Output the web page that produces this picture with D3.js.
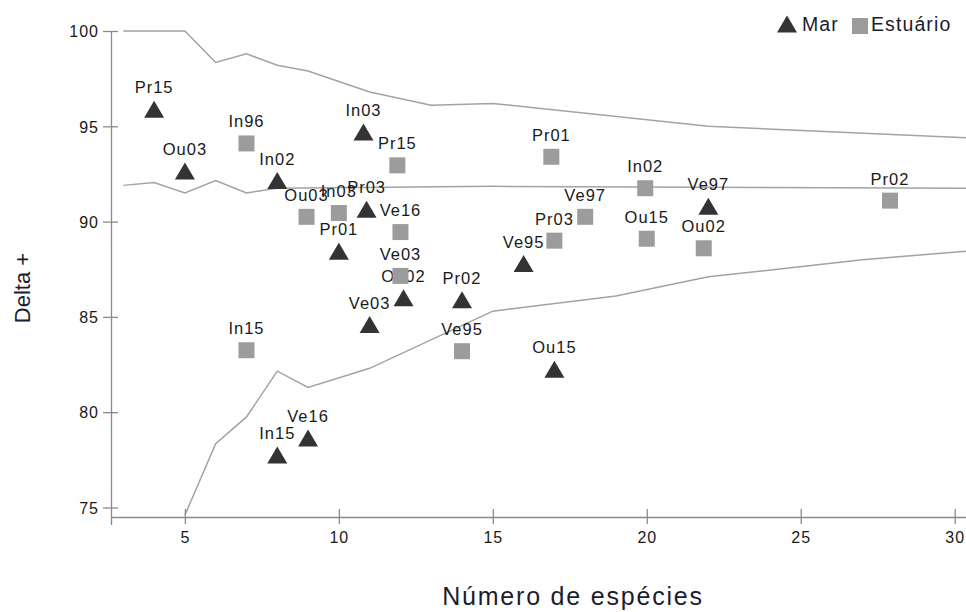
<!DOCTYPE html>
<html>
<head>
<meta charset="utf-8">
<script src="https://cdn.jsdelivr.net/npm/d3@7"></script>
<style>
  html, body { margin: 0; padding: 0; background: #fff; }
  svg { display: block; }
  text { font-family: "Liberation Sans", Arial, sans-serif; }
</style>
</head>
<body>
<svg id="chart" width="966" height="612"></svg>
<script>
// Sampling sites: Mar (sea) stations
const marNames   = ["Pr15", "Ou03", "In02", "In03", "Pr03", "Pr01", "Ou02", "Ve03", "Pr02", "Ve95", "Ou15", "Ve97", "In15", "Ve16"];
const marSpecies = [4, 5, 8, 10.8, 10.9, 10, 12.1, 11, 14, 16, 17, 22, 8, 9];
const marDelta   = [95.9, 92.65, 92.15, 94.7, 90.65, 88.45, 86.0, 84.6, 85.9, 87.8, 82.25, 90.8, 77.75, 78.65];

// Sampling sites: Estuário stations
const estNames   = ["In96", "Ou03", "In03", "Pr15", "Ve16", "Ve03", "In15", "Ve95", "Pr01", "Pr03", "Ve97", "In02", "Ou15", "Ou02", "Pr02"];
const estSpecies = [7, 8.95, 10, 11.9, 12, 12, 7, 14, 16.9, 17, 18, 19.95, 20, 21.85, 27.9];
const estDelta   = [94.1, 90.25, 90.45, 92.95, 89.45, 87.15, 83.25, 83.2, 93.4, 89.0, 90.25, 91.75, 89.1, 88.6, 91.1];

// Expected Delta+ funnel (upper limit, mean, lower limit)
const upperX = [3, 5, 6, 7, 8, 9, 11, 13, 15, 22, 30.4];
const upperY = [100, 100, 98.35, 98.8, 98.2, 97.9, 96.8, 96.1, 96.2, 95.0, 94.4];
const meanX  = [3, 4, 5, 6, 7, 8, 15, 30.4];
const meanY  = [91.9, 92.05, 91.5, 92.15, 91.5, 91.75, 91.85, 91.75];
const lowerX = [5, 6, 7, 8, 9, 11, 15, 19, 22, 27, 30.4];
const lowerY = [74.6, 78.35, 79.75, 82.15, 81.3, 82.3, 85.3, 86.1, 87.1, 88.0, 88.45];

// Axis ticks and titles
const xTicks = [5, 10, 15, 20, 25, 30];
const yTicks = [75, 80, 85, 90, 95, 100];
const xTitle = "Número de espécies";
const yTitle = "Delta +";
const legendLabels = ["Mar", "Estuário"];

const svg = d3.select("#chart");

const x = d3.scaleLinear().domain([2.6, 30.4]).range([111, 967]);
const y = d3.scaleLinear().domain([74.5, 100]).range([517, 31]);

const axisColor = "#8a8a8a";
const lineColor = "#a3a3a3";
const marColor = "#333333";
const estColor = "#9c9c9c";
const textColor = "#1a1a1a";

// Funnel lines
const line = d3.line().x(d => x(d[0])).y(d => y(d[1]));
[[upperX, upperY], [meanX, meanY], [lowerX, lowerY]].forEach(([xs, ys]) => {
  svg.append("path")
    .datum(xs.map((v, i) => [v, ys[i]]))
    .attr("d", line)
    .attr("fill", "none")
    .attr("stroke", lineColor)
    .attr("stroke-width", 1.5);
});

// X axis
const gx = svg.append("g")
  .attr("transform", `translate(0,${y.range()[0]})`)
  .call(d3.axisBottom(x).tickValues(xTicks).tickSize(7).tickSizeOuter(8));
gx.select(".domain").attr("stroke", axisColor).attr("stroke-width", 1.3);
gx.selectAll(".tick line").attr("y1", -8).attr("stroke", axisColor).attr("stroke-width", 1.3);
gx.selectAll(".tick text")
  .attr("y", 26).attr("dy", null)
  .attr("fill", textColor)
  .style("font-size", "16px")
  .style("letter-spacing", "1px");

// Y axis
const gy = svg.append("g")
  .attr("transform", `translate(${x.range()[0]},0)`)
  .call(d3.axisLeft(y).tickValues(yTicks).tickSize(8).tickSizeOuter(0));
gy.select(".domain").attr("stroke", axisColor).attr("stroke-width", 1.3);
gy.selectAll(".tick line").attr("x1", 7).attr("stroke", axisColor).attr("stroke-width", 1.3);
gy.selectAll(".tick text")
  .attr("x", -12).attr("dy", "0.36em")
  .attr("fill", textColor)
  .style("font-size", "16px")
  .style("letter-spacing", "1px");

// Marker shapes, centred on their bounding box
const triW = 20, triH = 17, sq = 16;
const triPath = `M0,${-triH / 2}L${triW / 2},${triH / 2}L${-triW / 2},${triH / 2}Z`;

const marData = marNames.map((n, i) => ({ name: n, s: marSpecies[i], d: marDelta[i] }));
const estData = estNames.map((n, i) => ({ name: n, s: estSpecies[i], d: estDelta[i] }));

function labels(data) {
  svg.append("g").selectAll("text")
    .data(data).join("text")
    .attr("x", d => x(d.s))
    .attr("y", d => y(d.d) - 16)
    .attr("text-anchor", "middle")
    .attr("fill", textColor)
    .style("font-size", "16.5px")
    .style("letter-spacing", "1px")
    .text(d => d.name);
}

// Mar: triangles
svg.append("g").selectAll("path")
  .data(marData).join("path")
  .attr("d", triPath)
  .attr("transform", d => `translate(${x(d.s)},${y(d.d)})`)
  .attr("fill", marColor);
labels(marData);

// Estuário: squares
svg.append("g").selectAll("rect")
  .data(estData).join("rect")
  .attr("x", d => x(d.s) - sq / 2)
  .attr("y", d => y(d.d) - sq / 2)
  .attr("width", sq).attr("height", sq)
  .attr("fill", estColor);
labels(estData);

// Legend
const lg = svg.append("g");
lg.append("path").attr("d", triPath).attr("transform", "translate(787,24)").attr("fill", marColor);
lg.append("text").attr("x", 802).attr("y", 31)
  .attr("fill", "#1c1c30").style("font-size", "19.5px").style("letter-spacing", "1.1px")
  .text(legendLabels[0]);
lg.append("rect").attr("x", 852).attr("y", 18).attr("width", sq).attr("height", sq).attr("fill", estColor);
lg.append("text").attr("x", 871).attr("y", 31)
  .attr("fill", "#1c1c30").style("font-size", "19.5px").style("letter-spacing", "1.1px")
  .text(legendLabels[1]);

// Axis titles
svg.append("text")
  .attr("x", 573).attr("y", 605)
  .attr("text-anchor", "middle")
  .attr("fill", "#1c1c30")
  .style("font-size", "25px")
  .style("letter-spacing", "1.8px")
  .text(xTitle);

svg.append("text")
  .attr("transform", "translate(30,288) rotate(-90)")
  .attr("text-anchor", "middle")
  .attr("fill", "#1c1c30")
  .style("font-size", "22px")
  .text(yTitle);
</script>
</body>
</html>
